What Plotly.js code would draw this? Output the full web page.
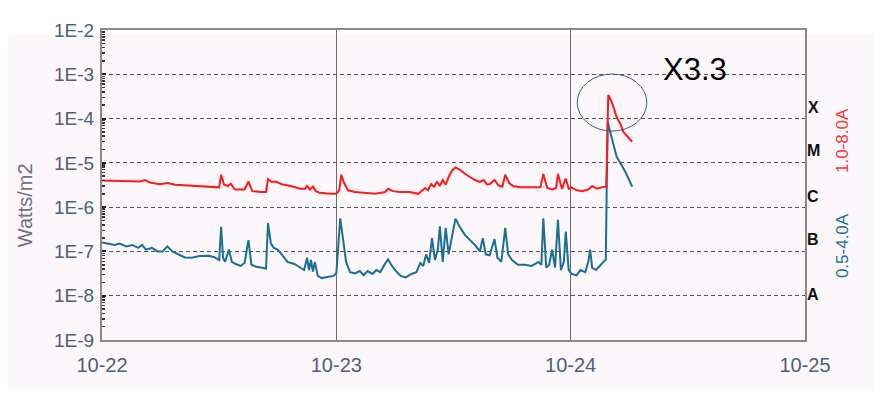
<!DOCTYPE html>
<html>
<head>
<meta charset="utf-8">
<script src="https://cdn.plot.ly/plotly-3.0.1.min.js"></script>
<style>html,body{margin:0;padding:0;background:#fff;}#chart{width:874px;height:395px;}</style>
</head>
<body>
<div id="chart"></div>
<script>
// Hours after 2024-10-22 00:00 UTC and flux (W/m2)
const redHours = [0,1.8,2.9,3.9,4.4,4.9,5.9,6.7,7.5,8.5,10.0,11.1,12.0,12.2,12.5,12.9,13.2,13.6,14.6,15.0,15.4,16.2,16.8,17.0,17.4,17.8,18.4,19.3,20.3,20.8,21.0,21.3,21.6,21.9,22.3,23.4,24.0,24.3,24.5,24.8,25.2,25.9,26.9,28.0,29.0,29.3,29.8,30.5,31.5,32.4,33.1,33.4,33.7,34.0,34.3,34.6,34.9,35.2,35.5,35.9,36.2,36.7,37.2,37.7,38.2,38.7,39.1,39.4,39.7,40.2,40.6,41.0,41.3,41.7,42.1,42.8,43.8,44.9,45.2,45.6,46.1,46.5,46.7,47.1,47.5,47.8,48.1,48.6,49.2,49.8,50.2,50.7,51.2,51.65,51.85,52.2,52.7,53.1,53.4,53.8,54.3];
const redFlux = [4.0e-6,3.9e-6,3.8e-6,3.8e-6,4.1e-6,3.6e-6,3.3e-6,3.5e-6,3.2e-6,3.1e-6,2.9e-6,2.8e-6,2.8e-6,5.4e-6,3.2e-6,3.0e-6,3.4e-6,2.5e-6,2.5e-6,3.8e-6,2.3e-6,2.2e-6,2.2e-6,4.3e-6,3.7e-6,3.8e-6,3.3e-6,3.0e-6,2.6e-6,2.6e-6,3.0e-6,2.5e-6,2.9e-6,2.3e-6,2.1e-6,2.0e-6,2.0e-6,2.4e-6,5.4e-6,3.5e-6,2.4e-6,2.2e-6,2.1e-6,2.0e-6,2.2e-6,2.6e-6,2.3e-6,2.2e-6,2.2e-6,2.0e-6,2.7e-6,2.4e-6,3.3e-6,2.9e-6,3.7e-6,3.1e-6,4.1e-6,3.2e-6,4.8e-6,6.9e-6,7.9e-6,6.9e-6,5.6e-6,4.8e-6,4.1e-6,3.7e-6,4.1e-6,3.3e-6,3.3e-6,4.1e-6,3.1e-6,2.9e-6,5.4e-6,3.5e-6,3.0e-6,2.8e-6,2.8e-6,2.8e-6,5.6e-6,2.7e-6,2.5e-6,2.7e-6,5.6e-6,2.6e-6,4.4e-6,2.6e-6,2.8e-6,2.4e-6,2.3e-6,2.5e-6,3.0e-6,2.6e-6,2.8e-6,2.9e-6,3.4e-4,2.4e-4,1.1e-4,7.5e-5,5.0e-5,3.9e-5,3.0e-5];

const blueHours = [0,0.6,1.3,1.8,2.5,3.1,3.7,4.1,4.5,5.1,5.7,6.2,6.7,7.2,7.8,8.5,9.2,10.0,10.9,11.5,12.0,12.2,12.4,12.6,13.0,13.3,13.7,14.2,14.6,15.0,15.3,15.8,16.4,16.8,17.0,17.3,17.6,18.0,18.4,19.0,19.7,20.3,20.7,21.0,21.2,21.4,21.6,21.8,22.1,22.5,23.1,23.7,24.0,24.2,24.4,24.7,25.0,25.4,25.9,26.4,26.8,27.2,27.7,28.1,28.5,28.9,29.3,29.7,30.1,30.6,31.1,31.7,32.2,32.6,32.9,33.2,33.5,33.8,34.1,34.4,34.6,34.9,35.2,35.5,35.9,36.2,36.7,37.2,37.7,38.2,38.7,39.0,39.3,39.7,40.2,40.5,40.9,41.3,41.6,42.0,42.6,43.3,44.0,44.7,45.0,45.2,45.5,45.8,46.1,46.4,46.7,47.0,47.3,47.5,47.8,48.1,48.6,49.0,49.5,49.8,50.0,50.2,50.6,51.0,51.3,51.6,51.7,51.8,52.0,52.4,52.7,53.1,53.6,54.3];
const blueFlux = [1.6e-7,1.5e-7,1.4e-7,1.5e-7,1.3e-7,1.4e-7,1.2e-7,1.4e-7,1.1e-7,1.2e-7,1.0e-7,1.0e-7,1.3e-7,1.0e-7,8.6e-8,7.3e-8,7.2e-8,7.9e-8,8.0e-8,7.4e-8,6.4e-8,3.6e-7,7.2e-8,5.8e-8,1.1e-7,5.8e-8,5.2e-8,4.7e-8,5.5e-8,1.8e-7,5.0e-8,4.5e-8,4.3e-8,4.1e-8,4.4e-7,1.5e-7,1.2e-7,1.1e-7,8.6e-8,5.8e-8,5.2e-8,4.3e-8,3.8e-8,7.2e-8,3.8e-8,6.4e-8,3.5e-8,5.8e-8,2.8e-8,2.5e-8,2.6e-8,2.8e-8,3.2e-8,1.1e-7,5.6e-7,1.8e-7,5.8e-8,3.4e-8,3.2e-8,3.6e-8,2.9e-8,3.6e-8,3.1e-8,3.8e-8,3.4e-8,4.9e-8,6.6e-8,4.7e-8,3.6e-8,2.8e-8,2.6e-8,3.1e-8,3.4e-8,5.5e-8,4.7e-8,8.6e-8,5.5e-8,2.0e-7,6.4e-8,1.1e-7,3.7e-7,5.8e-8,3.4e-7,8.6e-8,2.3e-7,5.5e-7,3.4e-7,2.3e-7,1.8e-7,1.4e-7,1.0e-7,2.0e-7,8.6e-8,8.2e-8,1.9e-7,7.2e-8,5.8e-8,3.4e-7,8.6e-8,6.4e-8,5.0e-8,5.0e-8,4.7e-8,5.8e-8,5.0e-8,5.6e-7,4.3e-8,5.0e-8,1.1e-7,4.3e-8,5.2e-7,3.8e-8,5.8e-8,2.8e-7,3.8e-8,3.1e-8,2.9e-8,3.8e-8,3.4e-8,5.8e-8,1.1e-7,4.3e-8,3.8e-8,4.7e-8,5.8e-8,6.6e-8,4.1e-6,8.5e-5,5.5e-5,2.3e-5,1.4e-5,9.8e-6,6.3e-6,2.9e-6];

const yTickVals = [1e-9,1e-8,1e-7,1e-6,1e-5,1e-4,1e-3,1e-2];
const yTickText = ['1E-9','1E-8','1E-7','1E-6','1E-5','1E-4','1E-3','1E-2'];
const classLabels = ['X','M','C','B','A'];
const classPos = [-3.74,-4.71,-5.75,-6.74,-7.98];
const redLabel = '1.0-8.0A';
const blueLabel = '0.5-4.0A';
const yTitle = 'Watts/m2';
const flareLabel = 'X3.3';

const t0 = Date.UTC(2024, 9, 22);
const toMs = h => t0 + h * 3600000;

// minor tick positions (2..9 within each decade)
const minorVals = [];
yTickVals.slice(0, -1).forEach(d => { for (let k = 2; k <= 9; k++) minorVals.push(d * k); });

const xTickFont = {family: 'Liberation Sans, Arial', size: 20, color: '#4f5f78'};
const yTickFont = {family: 'Liberation Sans, Arial', size: 19, color: '#4f5f78'};

const traces = [
  {x: blueHours.map(toMs), y: blueFlux, type: 'scatter', mode: 'lines',
   line: {color: '#1b6f94', width: 2}, hoverinfo: 'skip'},
  {x: redHours.map(toMs), y: redFlux, type: 'scatter', mode: 'lines',
   line: {color: '#ff1a1a', width: 2}, hoverinfo: 'skip'}
];

const annotations = classLabels.map((c, i) => ({
  text: '<b>' + c + '</b>', xref: 'paper', yref: 'y', x: 1.012, y: classPos[i],
  xanchor: 'center', yanchor: 'middle', showarrow: false,
  font: {family: 'Liberation Sans, Arial', size: 16, color: '#111'}
}));
annotations.push(
  {text: redLabel, xref: 'paper', yref: 'paper', x: 1.0526, y: 0.645, textangle: -90,
   xanchor: 'center', yanchor: 'middle', showarrow: false,
   font: {family: 'Liberation Sans, Arial', size: 17, color: '#ff3030'}},
  {text: blueLabel, xref: 'paper', yref: 'paper', x: 1.0526, y: 0.306, textangle: -90,
   xanchor: 'center', yanchor: 'middle', showarrow: false,
   font: {family: 'Liberation Sans, Arial', size: 17, color: '#1b6f94'}},
  {text: yTitle, xref: 'paper', yref: 'paper', x: -0.1095, y: 0.435, textangle: -90,
   xanchor: 'center', yanchor: 'middle', showarrow: false,
   font: {family: 'Liberation Sans, Arial', size: 20, color: '#6f7080'}},
  {text: flareLabel, xref: 'paper', yref: 'paper', x: 0.844, y: 0.871,
   xanchor: 'center', yanchor: 'middle', showarrow: false,
   font: {family: 'Liberation Sans, Arial', size: 31, color: '#000'}}
);

const layout = {
  width: 874, height: 395,
  margin: {l: 102, r: 69, t: 30, b: 55},
  paper_bgcolor: '#ffffff', plot_bgcolor: '#ffffff',
  showlegend: false,
  xaxis: {
    type: 'date', range: [toMs(0), toMs(72)], dtick: 86400000, tick0: toMs(0),
    tickformat: '%m-%d', tickfont: xTickFont, ticks: '', ticklabelstandoff: 6,
    showgrid: true, gridcolor: '#6a6a6a', gridwidth: 1,
    showline: true, mirror: true, linecolor: '#8a8a8a', linewidth: 2,
    zeroline: false, fixedrange: true
  },
  yaxis: {
    type: 'log', range: [-9, -2], tickvals: yTickVals, ticktext: yTickText,
    tickfont: yTickFont, ticks: 'inside', ticklen: 4, tickwidth: 2, tickcolor: '#222',
    ticklabelstandoff: 2,
    minor: {tickmode: 'array', tickvals: minorVals, ticks: 'inside', ticklen: 3,
            tickwidth: 1.5, tickcolor: '#333', showgrid: false},
    showgrid: true, gridcolor: '#555555', gridwidth: 1, griddash: '4px,3px',
    showline: true, mirror: true, linecolor: '#8a8a8a', linewidth: 2,
    zeroline: false, fixedrange: true
  },
  shapes: [
    {type: 'rect', xref: 'paper', yref: 'paper', layer: 'below',
     x0: -0.134, x1: 1.12, y0: -0.161, y1: 0.985,
     fillcolor: '#fcf7fb', line: {width: 0}},
    {type: 'circle', xref: 'paper', yref: 'paper',
     x0: 0.676, x1: 0.775, y0: 0.674, y1: 0.858,
     line: {color: '#3b5a85', width: 1}}
  ],
  annotations: annotations
};

Plotly.newPlot('chart', traces, layout, {staticPlot: true, displayModeBar: false});
</script>
</body>
</html>
